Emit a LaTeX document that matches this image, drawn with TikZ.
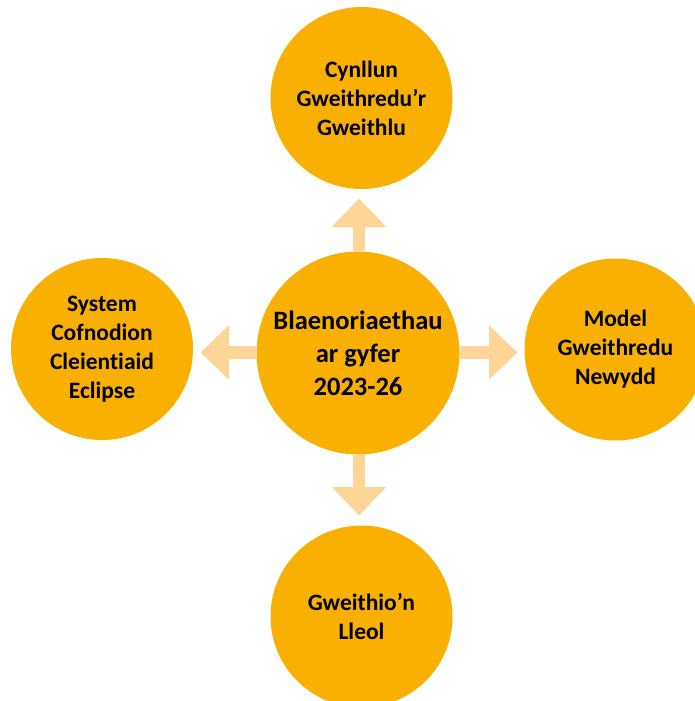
\documentclass[tikz,border=0pt]{standalone}
\usepackage{fontspec}
\setmainfont{Carlito}[Ligatures=NoCommon]
\usetikzlibrary{arrows.meta}
\definecolor{disc}{HTML}{F9B000}
\definecolor{arrowc}{HTML}{FDD697}
\begin{document}
\begin{tikzpicture}[x=1pt,y=-1pt,
  disc/.style={circle,fill=disc,draw=none,inner sep=0pt,align=center,text=black},
  outer/.style={disc,minimum size=182pt,font=\fontsize{23.5}{29}\selectfont\bfseries},
  centre/.style={disc,minimum size=203pt,font=\fontsize{26.5}{33}\selectfont\bfseries},
  blockarrow/.style={draw=arrowc,line width=12.5pt,-{Triangle[width=53pt,length=28.5pt]}}]
\useasboundingbox (0,0) rectangle (694,701);
\node[centre] (c) at (358,353) {Blaenoriaethau\\ar gyfer\\2023-26};
\node[outer] (t) at (361.5,98) {Cynllun\\Gweithredu’r\\Gweithlu};
\node[outer] (l) at (102,349) {System\\Cofnodion\\Cleientiaid\\Eclipse};
\node[outer] (r) at (615.5,349.5) {Model\\Gweithredu\\Newydd};
\node[outer] (b) at (361.5,616.5) {Gweithio’n\\Lleol};
\coordinate (tt) at (359,198.5);
\coordinate (lt) at (200.5,352.5);
\coordinate (rt) at (517.5,352.5);
\coordinate (bt) at (359,515.5);
\draw[blockarrow] (c.north -| tt) -- (tt);
\draw[blockarrow] (c.west |- lt) -- (lt);
\draw[blockarrow] (c.east |- rt) -- (rt);
\draw[blockarrow] (c.south -| bt) -- (bt);
\end{tikzpicture}
\end{document}
